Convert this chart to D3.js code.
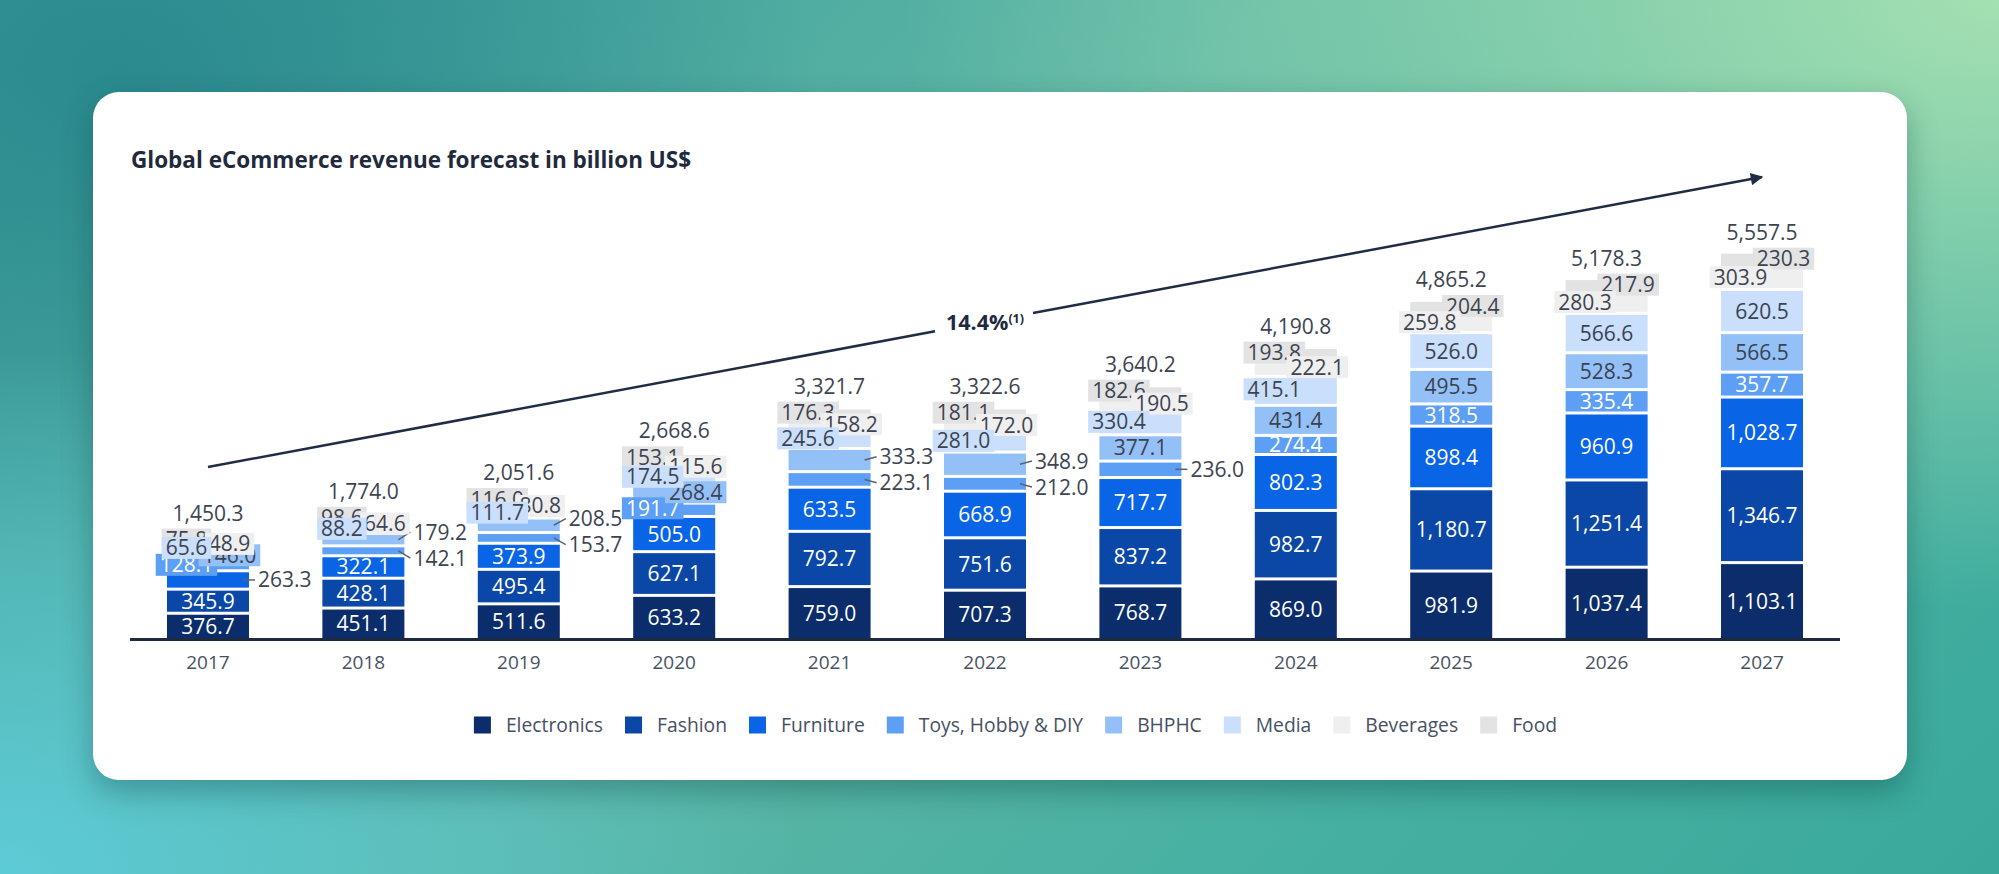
<!DOCTYPE html>
<html>
<head>
<meta charset="utf-8">
<script src="https://cdn.jsdelivr.net/npm/d3@7"></script>
<style>
  html, body { margin: 0; padding: 0; }
  body {
    width: 1999px; height: 874px; overflow: hidden; position: relative;
    background:
      radial-gradient(ellipse 40% 60% at 0% 100%, #5dcbd6 0%, rgba(93,203,214,0) 100%),
      radial-gradient(ellipse 55% 70% at 100% 0%, #a4e0b1 0%, rgba(164,224,177,0) 100%),
      radial-gradient(ellipse 35% 55% at 6% 8%, #2a8a8e 0%, rgba(42,138,142,0) 100%),
      linear-gradient(135deg, #3b9c99 0%, #5db7a6 45%, #46b0a2 75%, #3aa99c 100%);
    font-family: "Open Sans", "Noto Sans", sans-serif;
  }
  #card {
    position: absolute; left: 93px; top: 92px; width: 1814px; height: 688px;
    background: #ffffff; border-radius: 26px;
    box-shadow: 0 12px 30px rgba(10, 60, 60, 0.35);
  }
  svg { position: absolute; left: 0; top: 0; }
</style>
</head>
<body>
<div id="card"></div>
<svg id="chart" width="1999" height="874"></svg>
<script>
// ---------------- data ----------------
const years = ["2017","2018","2019","2020","2021","2022","2023","2024","2025","2026","2027"];
const seriesNames = ["Electronics","Fashion","Furniture","Toys, Hobby & DIY","BHPHC","Media","Beverages","Food"];
const electronics = [376.7,451.1,511.6,633.2,759.0,707.3,768.7,869.0,981.9,1037.4,1103.1];
const fashion     = [345.9,428.1,495.4,627.1,792.7,751.6,837.2,982.7,1180.7,1251.4,1346.7];
const furniture   = [263.3,322.1,373.9,505.0,633.5,668.9,717.7,802.3,898.4,960.9,1028.7];
const toys        = [128.1,142.1,153.7,191.7,223.1,212.0,236.0,274.4,318.5,335.4,357.7];
const bhphc       = [146.0,179.2,208.5,268.4,333.3,348.9,377.1,431.4,495.5,528.3,566.5];
const media       = [65.6,88.2,111.7,174.5,245.6,281.0,330.4,415.1,526.0,566.6,620.5];
const beverages   = [48.9,64.6,80.8,115.6,158.2,172.0,190.5,222.1,259.8,280.3,303.9];
const food        = [75.8,98.6,116.0,153.1,176.3,181.1,182.6,193.8,204.4,217.9,230.3];
const totals      = [1450.3,1774.0,2051.6,2668.6,3321.7,3322.6,3640.2,4190.8,4865.2,5178.3,5557.5];
const cagrLabel = "14.4%";
const cagrNote = "(1)";
const title = "Global eCommerce revenue forecast in billion US$";

// label placement mode per series per year: in = inside, L/R = shifted boxed label, O = outside right
const placeElectronics = ["in","in","in","in","in","in","in","in","in","in","in"];
const placeFashion     = ["in","in","in","in","in","in","in","in","in","in","in"];
const placeFurniture   = ["O","in","in","in","in","in","in","in","in","in","in"];
const placeToys        = ["L","O","O","L","O","O","O","in","in","in","in"];
const placeBhphc       = ["R","O","O","R","O","O","in","in","in","in","in"];
const placeMedia       = ["L","L","L","L","L","L","L","L","in","in","in"];
const placeBeverages   = ["R","R","R","R","R","R","R","R","L","L","L"];
const placeFood        = ["L","L","L","L","L","L","L","L","R","R","R"];

// ---------------- styling ----------------
const colors = ["#0b2d6b","#0a47a7","#0965e6","#5c9ff5","#94c0f8","#c9dffc","#efefef","#e3e3e3"];
const insideText = ["#ffffff","#ffffff","#ffffff","#ffffff","#3b4250","#3b4250","#3b4250","#3b4250"];
const darkText = "#3d4451";

const seriesValues = [electronics, fashion, furniture, toys, bhphc, media, beverages, food];
const placements = [placeElectronics, placeFashion, placeFurniture, placeToys, placeBhphc, placeMedia, placeBeverages, placeFood];

const table = years.map((yr, i) => {
  const row = { year: yr };
  seriesNames.forEach((s, j) => row[s] = seriesValues[j][i]);
  return row;
});

const svg = d3.select("#chart");

const x = d3.scaleBand().domain(years).range([130.3, 1839.7]).paddingInner(0.4723).paddingOuter(0.236);
const y = d3.scaleLinear().domain([0, 6000]).range([639.5, 221.3]);

const stack = d3.stack().keys(seriesNames);
const stacked = stack(table);

// title
svg.append("text").attr("x", 131).attr("y", 168)
  .attr("font-size", 22.5).attr("font-weight", 700).attr("fill", "#1f2a3d")
  .text(title);

// bars
const gap = 3;
const barG = svg.append("g");
stacked.forEach((layer, j) => {
  barG.append("g").attr("fill", colors[j])
    .selectAll("rect").data(layer).join("rect")
    .attr("x", d => x(d.data.year))
    .attr("width", x.bandwidth())
    .attr("y", d => y(d[1]) + gap / 2)
    .attr("height", d => Math.max(0, y(d[0]) - y(d[1]) - gap));
});

// baseline
svg.append("line")
  .attr("x1", 130).attr("x2", 1840)
  .attr("y1", y(0)).attr("y2", y(0))
  .attr("stroke", "#1e2b3e").attr("stroke-width", 3);

// x axis labels
const xAxis = d3.axisBottom(x).tickSize(0).tickPadding(16);
const axG = svg.append("g").attr("transform", `translate(0,${y(0)})`).call(xAxis);
axG.select(".domain").remove();
axG.selectAll("text").attr("font-size", 19).attr("fill", "#4a5262")
  .attr("font-family", "Open Sans");

// ---------------- labels ----------------
const fmt = d3.format(",.1f");
const FS = 21;
const labelLayer = svg.append("g").attr("font-size", FS).attr("font-family", "Open Sans");
const inG = labelLayer.append("g");
const outG = labelLayer.append("g");
const boxOrder = [3, 4, 7, 6, 5]; // Toys, BHPHC, Food, Beverages, Media (Media on top)
const boxGroups = {};
boxOrder.forEach(j => boxGroups[j] = labelLayer.append("g"));
const totG = labelLayer.append("g");

years.forEach((yr, i) => {
  const xc = x(yr) + x.bandwidth() / 2;
  const right = x(yr) + x.bandwidth();
  let topMost = y(totals[i]);
  const outs = [];
  stacked.forEach((layer, j) => {
    const d = layer[i];
    const cy = (y(d[0]) + y(d[1])) / 2;
    const mode = placements[j][i];
    const label = fmt(seriesValues[j][i]);
    if (mode === "in") {
      inG.append("text").attr("x", xc).attr("y", cy + 7.5)
        .attr("text-anchor", "middle").attr("fill", insideText[j]).text(label);
    } else if (mode === "O") {
      outs.push({ j, cy, ly: cy, label });
    } else {
      const tx = xc + (mode === "L" ? -21.5 : 21.5);
      const ly = cy - 1.5;
      const g = boxGroups[j].append("g");
      const rect = g.append("rect").attr("fill", colors[j]);
      const t = g.append("text").attr("x", tx).attr("y", ly + 7.5)
        .attr("text-anchor", "middle")
        .attr("fill", j === 3 ? "#ffffff" : darkText).text(label);
      const w = t.node().getComputedTextLength();
      rect.attr("x", tx - w / 2 - 4).attr("width", w + 8)
        .attr("y", ly - 11).attr("height", 22);
      topMost = Math.min(topMost, ly - 11);
    }
  });
  // spread outside labels vertically
  if (outs.length > 1) {
    outs.sort((a, b) => a.cy - b.cy);
    const mean = d3.mean(outs, o => o.cy);
    const sep = 26;
    const n = outs.length;
    outs.forEach((o, k) => o.ly = mean + (k - (n - 1) / 2) * sep);
  }
  outs.forEach(o => {
    outG.append("line")
      .attr("x1", right - 6).attr("y1", o.cy)
      .attr("x2", right + 6).attr("y2", o.ly)
      .attr("stroke", "#5a6270").attr("stroke-width", 1.5);
    outG.append("text").attr("x", right + 9).attr("y", o.ly + 7.5)
      .attr("fill", darkText).text(o.label);
  });
  totG.append("text").attr("x", xc).attr("y", topMost - 8)
    .attr("text-anchor", "middle").attr("fill", "#3d4451").text(fmt(totals[i]));
});

// ---------------- CAGR arrow ----------------
const x0 = x(years[0]) + x.bandwidth() / 2;
const x1 = x(years[years.length - 1]) + x.bandwidth() / 2;
const ay0 = 467, ay1 = 177;
const lineY = xx => ay0 + (ay1 - ay0) * (xx - x0) / (x1 - x0);
const lblX = x(years[5]) + x.bandwidth() / 2;
const annG = svg.append("g");
const cagrText = annG.append("text").attr("x", 0).attr("y", 0)
  .attr("font-size", 21.5).attr("font-weight", 700).attr("fill", "#1f2a3d");
cagrText.append("tspan").text(cagrLabel);
cagrText.append("tspan").attr("font-size", 12.5).attr("dy", -7).text(cagrNote);
const tw = cagrText.node().getComputedTextLength();
const tLeft = lblX - tw / 2;
const lineMidY = lineY(lblX);
cagrText.attr("x", tLeft).attr("y", lineMidY + 8);
const gL = tLeft - 11, gR = tLeft + tw + 9;

svg.append("defs").append("marker")
  .attr("id", "arrowHead").attr("viewBox", "0 0 10 10")
  .attr("refX", 9).attr("refY", 5)
  .attr("markerWidth", 5.5).attr("markerHeight", 5)
  .attr("markerUnits", "strokeWidth")
  .attr("orient", "auto")
  .append("path").attr("d", "M0,0 L10,5 L0,10 Z").attr("fill", "#1f2d44");

annG.append("line").attr("x1", x0).attr("y1", ay0).attr("x2", gL).attr("y2", lineY(gL))
  .attr("stroke", "#1f2d44").attr("stroke-width", 2.5);
annG.append("line").attr("x1", gR).attr("y1", lineY(gR)).attr("x2", x1).attr("y2", ay1)
  .attr("stroke", "#1f2d44").attr("stroke-width", 2.5)
  .attr("marker-end", "url(#arrowHead)");

// ---------------- legend ----------------
const legG = svg.append("g").attr("font-size", 19.3).attr("font-family", "Open Sans");
let cx = 0;
seriesNames.forEach((s, j) => {
  const g = legG.append("g");
  g.append("rect").attr("x", 0).attr("y", -8.5).attr("width", 17).attr("height", 17).attr("fill", colors[j]);
  const t = g.append("text").attr("x", 32).attr("y", 7).attr("fill", "#475062").text(s);
  const w = t.node().getComputedTextLength();
  g.attr("transform", `translate(${cx},0)`);
  cx += 32 + w + 22;
});
const legW = cx - 22;
legG.attr("transform", `translate(${1015.5 - legW / 2},725)`);
</script>
</body>
</html>
